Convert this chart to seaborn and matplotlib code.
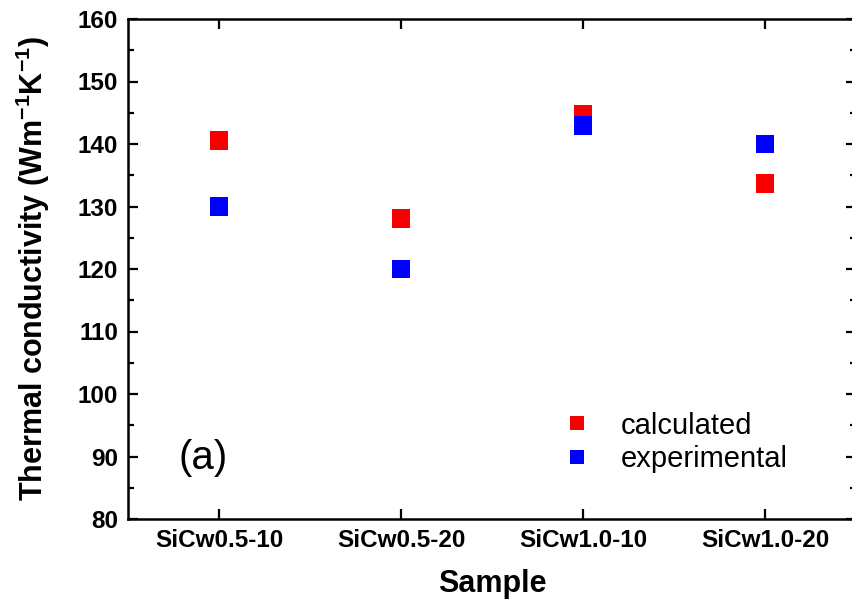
import numpy as np
import pandas as pd
import seaborn as sns
import matplotlib
matplotlib.use("Agg")
import matplotlib.pyplot as plt
from matplotlib.ticker import MultipleLocator

# data
samples = ["SiCw0.5-10", "SiCw0.5-20", "SiCw1.0-10", "SiCw1.0-20"]
calculated = [140.6, 128.1, 144.8, 133.7]
experimental = [130.0, 120.0, 143.0, 140.0]

df = pd.DataFrame({
    "Sample": samples * 2,
    "k": calculated + experimental,
    "Type": ["calculated"] * 4 + ["experimental"] * 4,
})

sns.set_style("ticks")
plt.rcParams["font.family"] = ["Liberation Sans", "DejaVu Sans"]
plt.rcParams["mathtext.fontset"] = "custom"
plt.rcParams["mathtext.rm"] = "Liberation Sans"
plt.rcParams["mathtext.bf"] = "Liberation Sans:bold"
for key in ["text.color", "axes.edgecolor", "axes.labelcolor",
            "xtick.color", "ytick.color"]:
    plt.rcParams[key] = "black"

fig = plt.figure(figsize=(8.53, 6.03), dpi=100)
ax = fig.add_axes([128 / 853, 84 / 603, 728 / 853, 500 / 603])

sns.scatterplot(data=df, x="Sample", y="k", hue="Type",
                palette={"calculated": "#f80000", "experimental": "#0000ff"},
                marker="s", s=185, linewidth=0, ax=ax)

ax.set_xlim(-0.5, 3.5)
ax.set_ylim(80, 160)
ax.yaxis.set_major_locator(MultipleLocator(10))
ax.yaxis.set_minor_locator(MultipleLocator(5))

for s in ax.spines.values():
    s.set_linewidth(1.8)
    s.set_visible(True)
    s.set_color("black")

ax.tick_params(axis="both", which="major", direction="in", length=7, width=1.6,
               top=True, right=True, pad=7, colors="black")
ax.tick_params(axis="y", which="minor", direction="in", length=4, width=1.6,
               left=True, right=True, colors="black")
for lab in ax.get_xticklabels() + ax.get_yticklabels():
    lab.set_fontsize(17.5)
    lab.set_fontweight("bold")

ax.set_xlabel("Sample", fontsize=22, fontweight="bold")
ax.set_ylabel(r"Thermal conductivity (Wm$^{\mathbf{-1}}$K$^{\mathbf{-1}}$)",
              fontsize=22, fontweight="bold")
ax.xaxis.set_label_coords(0.5, -0.10)
ax.yaxis.set_label_coords(-0.104, 0.5)

ax.text(0.103, 0.122, "(a)", transform=ax.transAxes, fontsize=29,
        ha="center", va="center")

handles, labels = ax.get_legend_handles_labels()
ax.legend(handles, labels, loc="upper left", bbox_to_anchor=(0.597, 0.215),
          frameon=False, fontsize=21, markerscale=0.74, handlelength=1.0,
          handletextpad=1.0, labelspacing=0.2, borderpad=0, borderaxespad=0)

fig.savefig("out.png", dpi=100)
